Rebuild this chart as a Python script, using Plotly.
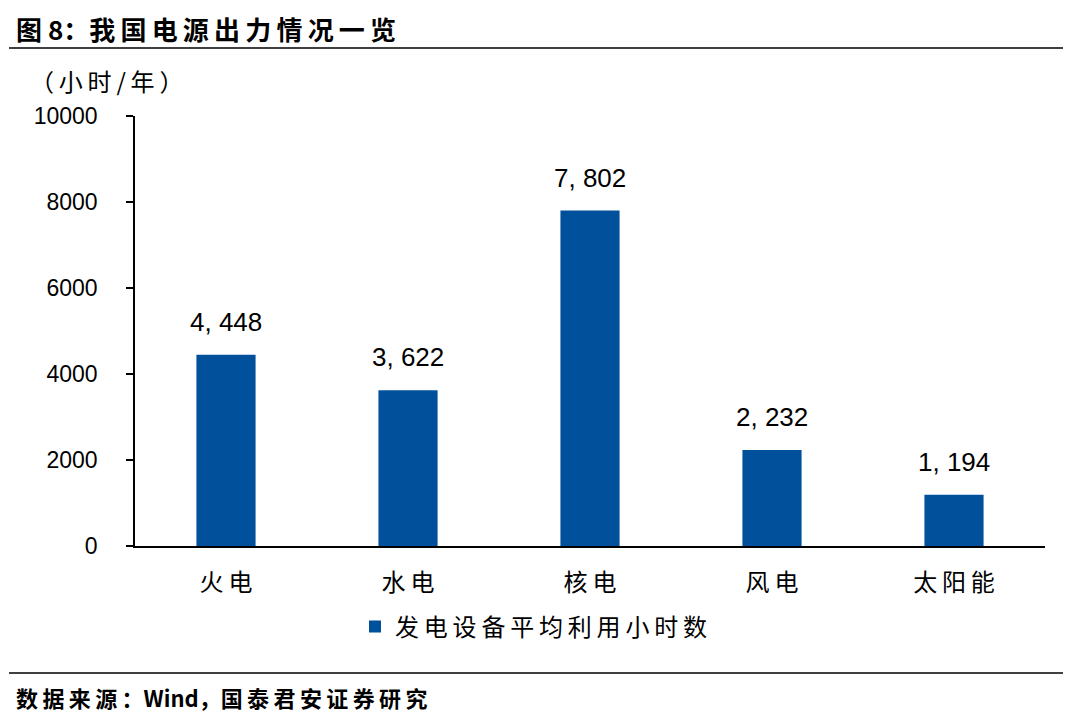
import plotly.graph_objects as go

categories = ["火电", "水电", "核电", "风电", "太阳能"]
hours = [4448, 3622, 7802, 2232, 1194]
y_ticks = [0, 2000, 4000, 6000, 8000, 10000]
series_name = "发电设备平均利用小时数"

labels = [f"{v:,}".replace(",", ", ") for v in hours]

def spaced(s):
    return "\u2009".join(s)

OFF = 8  # page body margin
W, H = 1080, 721
# target plot area on screen: x 135..1045, y 116..546
L = 135 - OFF
R = W - (1045 - OFF)
T = 116 - OFF
B = H - (546 - OFF)
pw, ph = W - L - R, H - T - B

def px(xs):
    return (xs - OFF - L) / pw

def py(ys):
    return (H - B - (ys - OFF)) / ph

fig = go.Figure()
fig.add_trace(go.Bar(
    x=categories, y=hours, name=spaced(series_name),
    marker=dict(color="#00509b", line=dict(width=0)),
    width=0.325,
))
for c, v, t in zip(categories, hours, labels):
    fig.add_annotation(x=c, y=v, text=t, showarrow=False, yanchor="bottom", yshift=16,
                       font=dict(family="Liberation Sans, Arial", size=26, color="#000000"))

fig.update_layout(
    width=W, height=H,
    margin=dict(l=L, r=R, t=T, b=B),
    paper_bgcolor="white", plot_bgcolor="white",
    font=dict(family="Noto Sans CJK SC", color="#000000"),
    showlegend=True,
    legend=dict(orientation="h", x=px(355), xanchor="left", y=py(627), yanchor="middle",
                font=dict(family="Noto Sans CJK SC", size=24, color="#000000"),
                itemwidth=30),
    xaxis=dict(showline=True, linecolor="#000000", linewidth=1.5, ticks="",
               tickvals=categories, ticktext=[spaced(c) for c in categories],
               ticklabelstandoff=14,
               tickfont=dict(family="Noto Sans CJK SC", size=24, color="#000000"),
               showgrid=False),
    yaxis=dict(range=[0, 10000], tickvals=y_ticks, ticktext=[str(t) for t in y_ticks],
               showline=True, linecolor="#000000", linewidth=1.5,
               ticks="outside", ticklen=7, tickwidth=1.5, tickcolor="#000000",
               ticklabelstandoff=24,
               tickfont=dict(family="Liberation Sans, Arial", size=23, color="#000000"),
               showgrid=False, zeroline=False),
    bargap=0.675,
)

fig.add_annotation(text="<b>" + "图 8：" + spaced("我国电源出力情况一览") + "</b>",
                   xref="paper", yref="paper",
                   x=px(15), y=py(9), xanchor="left", yanchor="top", showarrow=False,
                   borderpad=0,
                   font=dict(family="Noto Sans CJK SC", size=26, color="#000000"))
fig.add_shape(type="line", xref="paper", yref="paper", x0=px(9), x1=px(1063), y0=py(48), y1=py(48),
              line=dict(color="#000000", width=1.5))
fig.add_shape(type="line", xref="paper", yref="paper", x0=px(9), x1=px(1063), y0=py(673), y1=py(673),
              line=dict(color="#000000", width=1.5))
fig.add_annotation(text=spaced("（小时/年）"), xref="paper", yref="paper",
                   x=px(28), y=py(80), xanchor="left", yanchor="middle", showarrow=False,
                   font=dict(family="Noto Sans CJK SC", size=24, color="#000000"))
fig.add_annotation(text="<b>" + spaced("数据来源：") + "Wind，" + spaced("国泰君安证券研究") + "</b>",
                   xref="paper", yref="paper",
                   x=px(14), y=py(697), xanchor="left", yanchor="middle", showarrow=False,
                   font=dict(family="Noto Sans CJK SC", size=22, color="#000000"))

fig.write_html("out.html")
